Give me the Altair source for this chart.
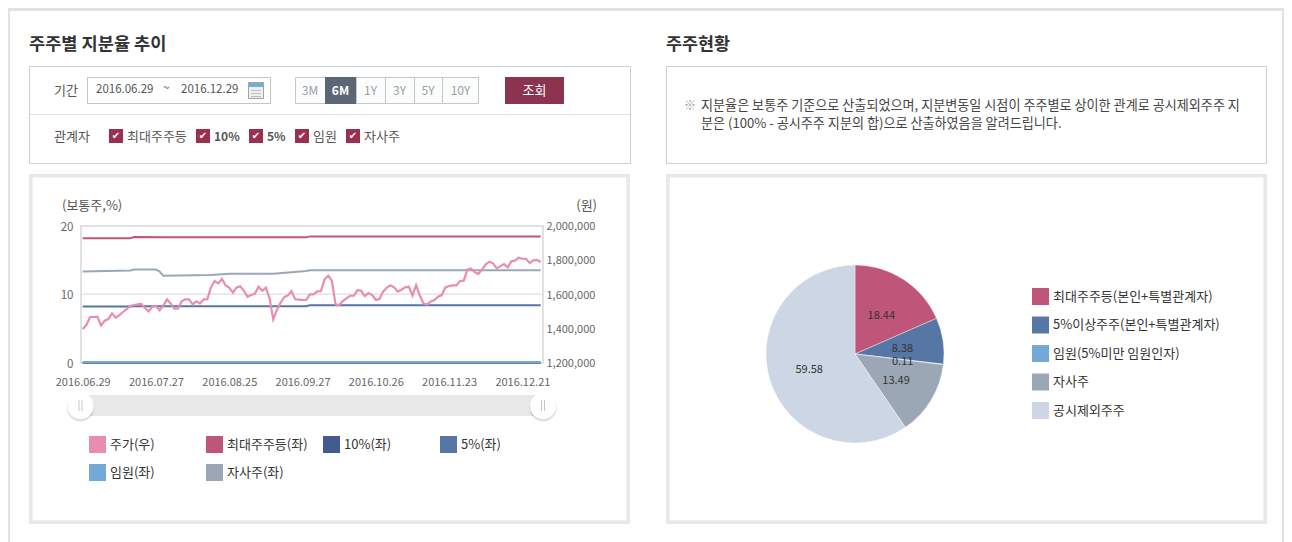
import altair as alt
import pandas as pd

FONT = "Noto Sans CJK KR"
W, H = 1276, 534

# ---- data ----
tick_labels = ["2016.06.29", "2016.07.27", "2016.08.25", "2016.09.27", "2016.10.26", "2016.11.23", "2016.12.21"]
tick_sessions = [0, 20, 40, 60, 80, 100, 120]

price = [
    1397, 1420, 1467, 1467, 1469, 1418, 1445, 1455, 1488, 1463,
    1478, 1496, 1513, 1531, 1537, 1541, 1543, 1519, 1500, 1527,
    1531, 1506, 1533, 1570, 1546, 1515, 1515, 1558, 1570, 1570,
    1541, 1558, 1546, 1570, 1570, 1640, 1677, 1663, 1689, 1652,
    1638, 1609, 1640, 1646, 1620, 1585, 1595, 1603, 1644, 1620,
    1638, 1576, 1453, 1508, 1550, 1583, 1593, 1618, 1570, 1568,
    1566, 1566, 1599, 1599, 1617, 1618, 1687, 1708,
    1679, 1541, 1537, 1560, 1576, 1591, 1591, 1624, 1620, 1589,
    1607, 1595, 1566, 1572, 1615, 1638, 1652, 1640, 1615, 1626,
    1640, 1644, 1593, 1652, 1593, 1546, 1539, 1558, 1566, 1585,
    1595, 1640, 1648, 1652, 1652, 1677, 1679, 1745, 1749, 1729,
    1718, 1745, 1774, 1790, 1780, 1751, 1764, 1776, 1757, 1792,
    1796, 1813, 1807, 1807, 1782, 1798, 1800, 1788,
]
largest_idx = [0, 13, 14, 22, 61, 62, 125]
largest_val = [18.15, 18.15, 18.35, 18.3, 18.3, 18.44, 18.44]
treasury_idx = [0, 13, 14, 20, 21, 22, 35, 40, 52, 61, 62, 125]
treasury_val = [13.3, 13.45, 13.6, 13.6, 13.3, 12.7, 12.8, 13.0, 13.0, 13.4, 13.49, 13.49]
five_idx = [0, 13, 14, 61, 62, 125]
five_val = [8.2, 8.2, 8.25, 8.25, 8.38, 8.38]
ten_idx = [0, 125]
ten_val = [0.0, 0.0]
officer_idx = [0, 125]
officer_val = [0.11, 0.11]

line_names = ["주가(우)", "최대주주등(좌)", "10%(좌)", "5%(좌)", "임원(좌)", "자사주(좌)"]
line_colors = ["#e88db1", "#c0557a", "#435c8f", "#5676a6", "#72a9d6", "#9ca7b6"]

pie_names = ["최대주주등(본인+특별관계자)", "5%이상주주(본인+특별관계자)", "임원(5%미만 임원인자)", "자사주", "공시제외주주"]
pie_values = [18.44, 8.38, 0.11, 13.49, 59.58]
pie_colors = ["#c0557a", "#5676a6", "#72a9d6", "#9ca7b6", "#cdd6e4"]

left_title = "주주별 지분율 추이"
right_title = "주주현황"
note_1 = "지분율은 보통주 기준으로 산출되었으며, 지분변동일 시점이 주주별로 상이한 관계로 공시제외주주 지"
note_2 = "분은 (100% - 공시주주 지분의 합)으로 산출하였음을 알려드립니다."
range_buttons = ["3M", "6M", "1Y", "3Y", "5Y", "10Y"]
checks = ["최대주주등", "10%", "5%", "임원", "자사주"]

# ---- page furniture helpers (coordinates are page pixels) ----
OX = 8
blank = alt.InlineData(values=[{"a": 1}])


def box(x1, y1, x2, y2, fill="#ffffff", stroke=None, sw=1.0, **kw):
    props = dict(fill=fill, **kw)
    if stroke:
        props.update(stroke=stroke, strokeWidth=sw)
    return alt.Chart(blank).mark_rect(**props).encode(
        x=alt.value(x1 - OX), x2=alt.value(x2 - OX), y=alt.value(y1 - OX), y2=alt.value(y2 - OX))


def label(x, y, s, size=13, color="#444444", weight="normal", align="left", font=FONT):
    return alt.Chart(blank).mark_text(
        text=s, align=align, baseline="middle", font=font, fontSize=size, fontWeight=weight, color=color
    ).encode(x=alt.value(x - OX), y=alt.value(y + 1 - OX))


def dot(x, y, size, color, opacity=1.0):
    return alt.Chart(blank).mark_circle(size=size, color=color, opacity=opacity).encode(
        x=alt.value(x - OX), y=alt.value(y - OX))


def line_seg(x1, y1, x2, y2, color, sw=1.0):
    return alt.Chart(blank).mark_rule(color=color, strokeWidth=sw).encode(
        x=alt.value(x1 - OX), x2=alt.value(x2 - OX), y=alt.value(y1 - OX), y2=alt.value(y2 - OX))


layers = []
# outer frame
layers += [box(8, 8, 10, 542, fill="#e2e2e2"), box(8, 8, 1284, 11, fill="#e2e2e2"), box(1282, 8, 1284, 542, fill="#e2e2e2")]
# titles
layers += [label(29, 44, left_title, size=17.6, color="#333333", weight="bold"),
           label(666, 44, right_title, size=17.4, color="#333333", weight="bold")]
# control panel
layers += [box(29.5, 66.5, 630.5, 163.5, stroke="#c6d0dc"), line_seg(30, 114.5, 630, 114.5, "#dde2e8")]
layers += [label(54, 90, "기간", color="#555555"), label(54, 136, "관계자", color="#555555")]
layers += [box(87.5, 77.5, 270.5, 103.5, stroke="#c4c4c4"),
           label(96, 89, "2016.06.29", size=11.5, color="#555555"),
           label(163, 88, "~", size=11.5, color="#555555"),
           label(181, 89, "2016.12.29", size=11.5, color="#555555")]
# calendar icon
layers += [box(248.5, 82.5, 263.5, 98.5, fill="#eef0f2", stroke="#9aa5ad"),
           box(249, 83, 263, 87, fill="#74aecb"),
           line_seg(251, 90.5, 261, 90.5, "#b9bec4"), line_seg(251, 93.5, 261, 93.5, "#b9bec4"),
           line_seg(251, 96.5, 261, 96.5, "#b9bec4")]
# range buttons
btn_edges = [295, 325, 356, 385, 414, 442, 479]
layers.append(box(295.5, 77.5, 478.5, 103.5, fill="#fbfcfc", stroke="#c4c8cc"))
layers.append(box(btn_edges[1], 77, btn_edges[2], 104, fill="#5d6675"))
for i in range(6):
    cx = (btn_edges[i] + btn_edges[i + 1]) / 2
    on = i == 1
    layers.append(label(cx, 90, range_buttons[i], size=12, align="center",
                        color="#ffffff" if on else "#9a9fa6", weight="bold" if on else "normal"))
    if i > 1:
        layers.append(line_seg(btn_edges[i] + .5, 78, btn_edges[i] + .5, 103, "#c4c8cc"))
layers += [box(505, 77, 564, 104, fill="#8c334f"), label(534.5, 90, "조회", color="#ffffff", align="center")]
# check boxes
check_x = [109, 196, 249, 295, 346]
for cx, name in zip(check_x, checks):
    pct = "%" in name
    layers += [box(cx, 129, cx + 14, 143, fill="#9c2f4f"),
               label(cx + 7, 135, "✔", size=10, color="#ffffff", align="center", font="DejaVu Sans"),
               label(cx + 18, 136, name, size=12 if pct else 13, color="#555555", weight="bold" if pct else "normal")]
# note panel
layers += [box(666.5, 66.5, 1266.5, 163.5, stroke="#c6d0dc"),
           label(684, 105, "※", size=12, color="#999999"),
           label(701, 105, note_1, size=13.1, color="#444444"),
           label(701, 123, note_2, size=13.1, color="#444444")]
# chart panels
layers += [box(30.8, 175.8, 628.2, 522.2, stroke="#e8e8e8", sw=3.6), box(667.8, 175.8, 1265.2, 522.2, stroke="#e8e8e8", sw=3.6)]
# plot frame
layers += [box(81, 226, 543, 363, stroke="#d8d8d8", sw=1.5)]
layers += [label(62, 205, "(보통주,%)", color="#555555"), label(597, 205, "(원)", color="#555555", align="right")]
# range slider
layers += [box(80, 395, 543, 416, fill="#e8e8e8")]
for hx in [80.5, 543]:
    layers += [dot(hx, 408, 750, "#000000", 0.08), dot(hx, 407, 730, "#000000", 0.08), dot(hx, 406, 700, "#ffffff"),
               line_seg(hx - 1.5, 400, hx - 1.5, 411, "#c8c8c8"), line_seg(hx + 1.5, 400, hx + 1.5, 411, "#c8c8c8")]

# ---- share-ratio chart ----
x_scale = alt.Scale(domain=[0, 125], range=[82.7 - OX, 540.7 - OX])
pct_scale = alt.Scale(domain=[0, 20], range=[362.7 - OX, 225.7 - OX])
won_scale = alt.Scale(domain=[1200000, 2000000], range=[362.7 - OX, 225.7 - OX])
color_scale = alt.Scale(domain=line_names, range=line_colors)

rows = []
for name, idx, val in [(line_names[2], ten_idx, ten_val), (line_names[4], officer_idx, officer_val),
                       (line_names[3], five_idx, five_val), (line_names[5], treasury_idx, treasury_val),
                       (line_names[1], largest_idx, largest_val)]:
    rows += [{"session": i, "pct": v, "series": name} for i, v in zip(idx, val)]
pct_df = pd.DataFrame(rows)
price_df = pd.DataFrame({"session": range(len(price)), "won": [p * 1000 for p in price], "series": line_names[0]})

label_expr = "[" + ",".join(f"'{t}'" for t in tick_labels) + "][datum.value/20]"
x_axis = alt.Axis(values=tick_sessions, labelExpr=label_expr, title=None, orient="bottom", offset=-(H - (363 - OX)),
                  domain=False, ticks=False, grid=False, labelPadding=13, labelFont=FONT, labelFontSize=11,
                  labelColor="#666666", labelOverlap=False, labelFlush=False, labelBound=False, zindex=1)

legend = alt.Legend(title=None, orient="none", direction="horizontal", legendX=89 - OX, legendY=436 - OX, columns=4,
                    gridAlign="all", symbolType="square", symbolSize=289, symbolStrokeWidth=0, symbolOpacity=1,
                    labelFont=FONT, labelFontSize=13, labelColor="#333333", labelOffset=4, rowPadding=11,
                    columnPadding=15, labelLimit=200)

# an invisible square layer carries the filled legend swatches of the line series
swatches = alt.Chart(pd.DataFrame({"series": line_names})).mark_square(size=1, opacity=0).encode(
    color=alt.Color("series:N", scale=color_scale, legend=legend, sort=None),
    x=alt.value(0), y=alt.value(0),
)

grid = alt.Chart(pd.DataFrame({"pct": [10]})).mark_rule(color="#e4e4e4", strokeWidth=1.5).encode(
    y=alt.Y("pct:Q", scale=pct_scale, axis=None), x=alt.value(81 - OX), x2=alt.value(543 - OX))

pct_lines = alt.Chart(pct_df).mark_line(strokeWidth=2).encode(
    x=alt.X("session:Q", scale=x_scale, axis=x_axis),
    y=alt.Y("pct:Q", scale=pct_scale, axis=alt.Axis(values=[0, 10, 20], title=None, orient="left", offset=-(81 - OX),
            domain=False, ticks=False, grid=False, labelPadding=8, labelFont=FONT, labelFontSize=11.5,
            labelColor="#666666", labelOffset=1.5, zindex=1)),
    color=alt.Color("series:N", scale=color_scale, legend=None, sort=None),
    detail="series:N",
)
price_line = alt.Chart(price_df).mark_line(strokeWidth=2.2).encode(
    x=alt.X("session:Q", scale=x_scale, axis=x_axis),
    y=alt.Y("won:Q", scale=won_scale, axis=alt.Axis(values=[1200000, 1400000, 1600000, 1800000, 2000000], format=",.0f",
            title=None, orient="right", offset=-(W - (543 - OX)), domain=False, ticks=False, grid=False,
            labelPadding=3, labelFont=FONT, labelFontSize=11, labelColor="#666666", labelOffset=1, zindex=1)),
    color=alt.Color("series:N", scale=color_scale, legend=None, sort=None),
)
lines = alt.layer(swatches, grid, pct_lines, price_line).resolve_scale(y="independent")

# ---- pie ----
pie_df = pd.DataFrame({"name": pie_names, "value": pie_values, "ord": range(5)})
pie_legend = alt.Legend(title=None, orient="none", legendX=1032 - OX, legendY=288 - OX, symbolType="square",
                        symbolSize=289, symbolStrokeWidth=0, labelFont=FONT, labelFontSize=13, labelColor="#333333",
                        labelOffset=4, rowPadding=11.5, labelLimit=300)
theta = alt.Theta("value:Q", stack=True, scale=alt.Scale(domain=[0, 100]))
pie = alt.Chart(pie_df).mark_arc(radius=89, stroke="#ffffff", strokeWidth=0.4).encode(
    theta=theta,
    order=alt.Order("ord:Q"),
    color=alt.Color("name:N", scale=alt.Scale(domain=pie_names, range=pie_colors), legend=pie_legend, sort=None),
    x=alt.value(855 - OX), y=alt.value(354 - OX),
)
pie_text = alt.Chart(pie_df).mark_text(radius=48, dy=2, font=FONT, fontSize=11, color="#333333").encode(
    theta=theta,
    order=alt.Order("ord:Q"),
    detail="name:N",
    text=alt.Text("value:Q", format=".2f"),
    x=alt.value(855 - OX), y=alt.value(354 - OX),
)

chart = alt.layer(*layers, lines, pie, pie_text).resolve_scale(color="independent").properties(
    width=W, height=H, padding=0, autosize=alt.AutoSizeParams(type="none"), background="#ffffff"
).configure_view(stroke=None)

chart.save("out.html", embed_options={"renderer": "svg", "actions": False})
